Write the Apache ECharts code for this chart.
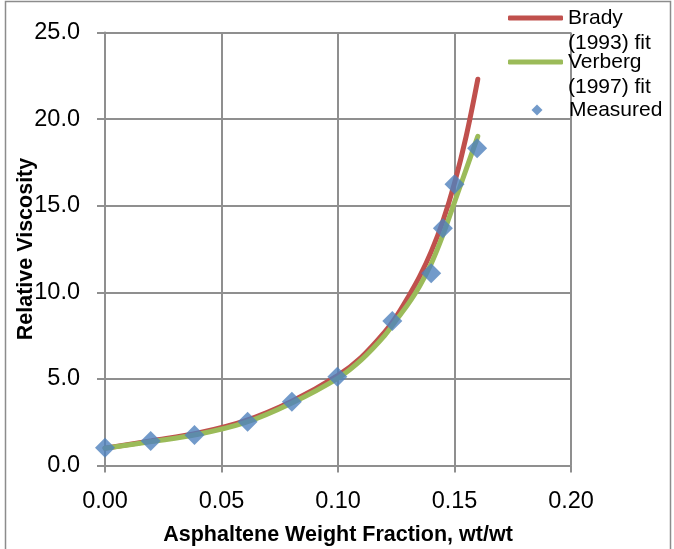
<!DOCTYPE html>
<html>
<head>
<meta charset="utf-8">
<script src="https://cdn.jsdelivr.net/npm/echarts@6/dist/echarts.min.js"></script>
<style>
  html, body { margin: 0; padding: 0; background: #ffffff; }
  #chart { width: 674px; height: 549px; }
</style>
</head>
<body>
<div id="chart"></div>
<script>
// Measured relative viscosity vs asphaltene weight fraction
const measuredFraction = [0.00, 0.0196, 0.0384, 0.0612, 0.0802, 0.0997, 0.1233, 0.1400, 0.1450, 0.1500, 0.1597];
const measuredViscosity = [1.03, 1.41, 1.76, 2.53, 3.68, 5.13, 8.34, 11.10, 13.70, 16.24, 18.31];

// Brady (1993) fitted curve
const bradyFraction = [0.00, 0.02, 0.04, 0.06, 0.08, 0.10, 0.11, 0.12, 0.125, 0.13, 0.135, 0.14, 0.145, 0.15, 0.155, 0.16];
const bradyViscosity = [1.00, 1.43, 1.88, 2.58, 3.70, 5.20, 6.25, 7.70, 8.60, 9.70, 10.90, 12.35, 14.10, 16.30, 19.00, 22.30];

// Verberg (1997) fitted curve
const verbergFraction = [0.00, 0.02, 0.04, 0.06, 0.08, 0.10, 0.11, 0.12, 0.125, 0.13, 0.135, 0.14, 0.145, 0.15, 0.155, 0.16];
const verbergViscosity = [1.00, 1.38, 1.80, 2.47, 3.60, 5.05, 6.10, 7.50, 8.40, 9.30, 10.35, 11.65, 13.30, 15.20, 17.10, 19.00];

const seriesNames = ['Brady (1993) fit', 'Verberg (1997) fit', 'Measured'];
// A leading empty line keeps the icon level with the first label line
const legendLabels = [' \nBrady\n(1993) fit', ' \nVerberg\n(1997) fit', 'Measured'];
const xTitle = 'Asphaltene Weight Fraction, wt/wt';
const yTitle = 'Relative Viscosity';

const pairs = (xs, ys) => xs.map((x, i) => [x, ys[i]]);

const FONT = '"Liberation Sans", Arial, sans-serif';
const GRID_COLOR = '#8f8f8f';
const RED = '#C0504D';
const GREEN = '#9BBB59';
const BLUE = '#4F81BD';
const LINE_H = 25;

function lineLegend(idx, top) {
  return {
    orient: 'vertical',
    left: 508,
    top: top,
    padding: 0,
    itemWidth: 55,
    itemHeight: 5,
    data: [{ name: seriesNames[idx], icon: 'roundRect' }],
    formatter: () => legendLabels[idx],
    textStyle: { fontFamily: FONT, fontSize: 21, color: '#000', lineHeight: LINE_H }
  };
}

const chart = echarts.init(document.getElementById('chart'), null, { renderer: 'canvas' });

chart.setOption({
  animation: false,
  backgroundColor: '#ffffff',
  textStyle: { fontFamily: FONT },
  graphic: [{
    type: 'rect',
    silent: true,
    z: -1,
    shape: { x: 5.5, y: 1.5, width: 665, height: 600 },
    style: { fill: 'none', stroke: '#8c8c8c', lineWidth: 1.5 }
  }],
  grid: { left: 105, right: 103, top: 32.5, bottom: 83.5, containLabel: false, outerBoundsMode: 'none' },
  legend: [
    lineLegend(0, -19.5),
    lineLegend(1, 24.5),
    {
      orient: 'vertical',
      left: 531.5,
      top: 97.5,
      padding: 0,
      itemWidth: 11,
      itemHeight: 11,
      data: [{ name: seriesNames[2], icon: 'diamond' }],
      formatter: () => legendLabels[2],
      textStyle: { fontFamily: FONT, fontSize: 21, color: '#000', lineHeight: LINE_H, padding: [0, 0, 0, 21.5] }
    }
  ],
  xAxis: {
    type: 'value',
    min: 0,
    max: 0.2,
    interval: 0.05,
    name: xTitle,
    nameLocation: 'middle',
    nameGap: 59,
    nameMoveOverlap: false,
    nameTextStyle: { fontFamily: FONT, fontSize: 21.5, fontWeight: 'bold', color: '#000' },
    axisLine: { show: true, lineStyle: { color: GRID_COLOR, width: 2 } },
    axisTick: { show: true, length: 7, lineStyle: { color: GRID_COLOR, width: 2 } },
    axisLabel: { fontFamily: FONT, fontSize: 23.5, color: '#000', margin: 24, formatter: v => v.toFixed(2) },
    splitLine: { show: true, lineStyle: { color: GRID_COLOR, width: 2 } }
  },
  yAxis: {
    type: 'value',
    min: 0,
    max: 25,
    interval: 5,
    name: yTitle,
    nameLocation: 'middle',
    nameGap: 68,
    nameMoveOverlap: false,
    nameTextStyle: { fontFamily: FONT, fontSize: 21.5, fontWeight: 'bold', color: '#000' },
    axisLine: { show: true, lineStyle: { color: GRID_COLOR, width: 2 } },
    axisTick: { show: true, length: 8, lineStyle: { color: GRID_COLOR, width: 2 } },
    axisLabel: { fontFamily: FONT, fontSize: 23.5, color: '#000', margin: 25, formatter: v => v.toFixed(1) },
    splitLine: { show: true, lineStyle: { color: GRID_COLOR, width: 2 } }
  },
  series: [
    {
      name: seriesNames[0],
      type: 'line',
      data: pairs(bradyFraction, bradyViscosity),
      smooth: 0.35,
      showSymbol: false,
      symbol: 'none',
      color: RED,
      lineStyle: { color: RED, width: 5, cap: 'round' },
      z: 2
    },
    {
      name: seriesNames[1],
      type: 'line',
      data: pairs(verbergFraction, verbergViscosity),
      smooth: 0.35,
      showSymbol: false,
      symbol: 'none',
      color: GREEN,
      lineStyle: { color: GREEN, width: 5, cap: 'round' },
      z: 3
    },
    {
      name: seriesNames[2],
      type: 'scatter',
      data: pairs(measuredFraction, measuredViscosity),
      symbol: 'diamond',
      symbolSize: 20,
      itemStyle: { color: BLUE },
      z: 4
    }
  ]
});
</script>
</body>
</html>
